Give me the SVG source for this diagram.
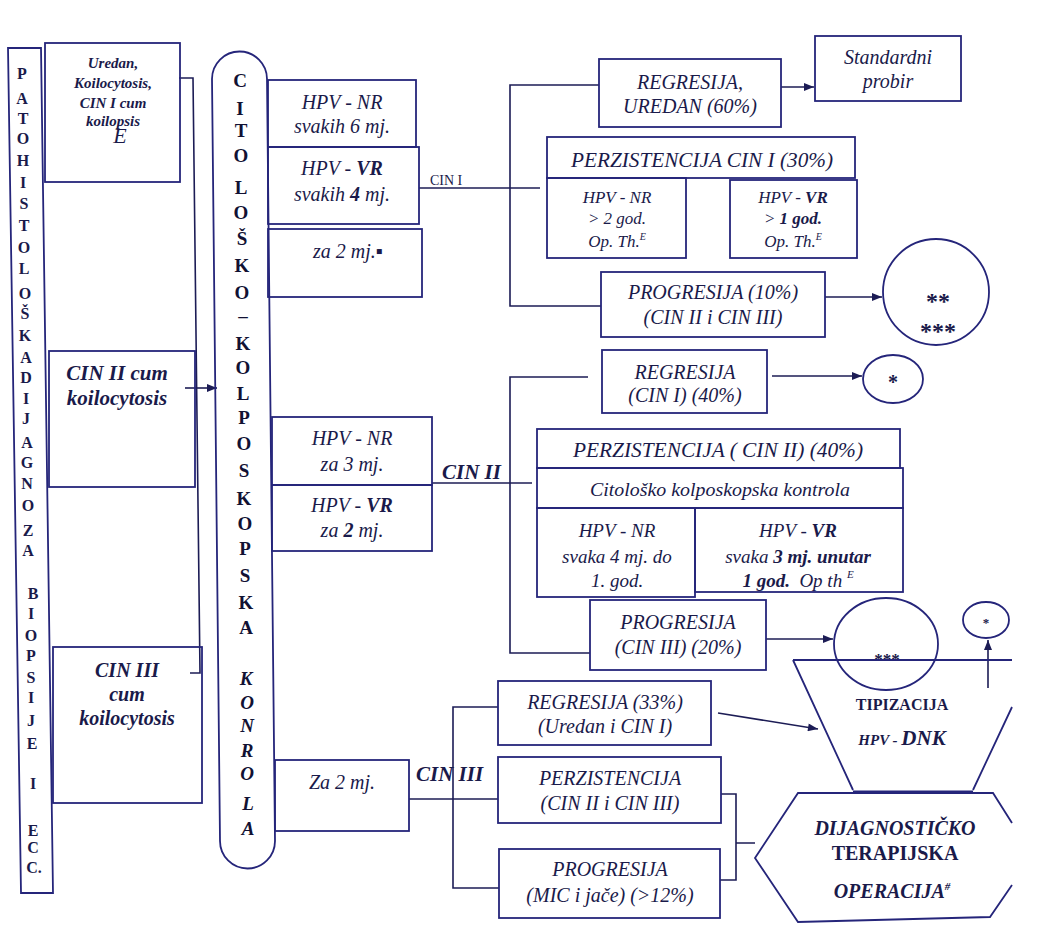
<svg xmlns="http://www.w3.org/2000/svg" width="1061" height="945" viewBox="0 0 1061 945">
<defs>
<marker id="ah" viewBox="0 0 10 8" refX="10" refY="4" markerWidth="11" markerHeight="8" markerUnits="userSpaceOnUse" orient="auto"><path d="M0,0 L10,4 L0,8 Z" fill="#1c1c55"/></marker>
<style>
.s{fill:none;stroke:#25257a;stroke-width:1.8}
.c{fill:none;stroke:#1c1c55;stroke-width:1.6}
.t{font-family:"Liberation Serif","Times New Roman",serif;font-style:italic;font-size:20px;fill:#1a1a4a;text-anchor:middle}
.m{font-size:17px}
.bi{font-weight:bold}
.n{font-style:normal}
.L{font-family:"Liberation Serif","Times New Roman",serif;font-weight:bold;font-size:16px;fill:#1a1a4a;text-anchor:middle}
.K{font-family:"Liberation Serif","Times New Roman",serif;font-weight:bold;font-size:19px;fill:#111133;text-anchor:middle}
</style>
</defs>
<rect width="1061" height="945" fill="#ffffff"/>

<g id="connectors">
<path class="c" d="M179,78 H193 L200,673 H190"/>
<path class="c" d="M185,388 H217" marker-end="url(#ah)"/>
<path class="c" d="M419,188 H540"/>
<path class="c" d="M599,85 H510 V306 H601"/>
<path class="c" d="M781,87 H814" marker-end="url(#ah)"/>
<path class="c" d="M825,297 H882" marker-end="url(#ah)"/>
<path class="c" d="M432,483 H532"/>
<path class="c" d="M588,377 H510 V653 H590"/>
<path class="c" d="M772,376 H862" marker-end="url(#ah)"/>
<path class="c" d="M766,639 H833" marker-end="url(#ah)"/>
<path class="c" d="M409,799 H498"/>
<path class="c" d="M498,707 H453 V888 H499"/>
<path class="c" d="M718,713 L818,729" marker-end="url(#ah)"/>
<path class="c" d="M721,794 H736 V880 H720 M736,843 H755"/>
<path class="c" d="M988,688 V640" marker-end="url(#ah)"/>
</g>

<g id="patohistoloska">
<path class="s" d="M8,48 L41,48 L53,893 L21,893 Z"/>
<text class="L" x="22" y="79">P</text>
<text class="L" x="22" y="104">A</text>
<text class="L" x="23" y="124">T</text>
<text class="L" x="23" y="144">O</text>
<text class="L" x="23" y="166">H</text>
<text class="L" x="23" y="188">I</text>
<text class="L" x="24" y="209">S</text>
<text class="L" x="24" y="231">T</text>
<text class="L" x="24" y="253">O</text>
<text class="L" x="24" y="274">L</text>
<text class="L" x="25" y="299">O</text>
<text class="L" x="25" y="319">Š</text>
<text class="L" x="25" y="341">K</text>
<text class="L" x="26" y="363">A</text>
<text class="L" x="26" y="383">D</text>
<text class="L" x="26" y="404">I</text>
<text class="L" x="26" y="424">J</text>
<text class="L" x="27" y="448">A</text>
<text class="L" x="27" y="468">G</text>
<text class="L" x="27" y="489">N</text>
<text class="L" x="28" y="511">O</text>
<text class="L" x="28" y="536">Z</text>
<text class="L" x="28" y="556">A</text>
<text class="L" x="33" y="599">B</text>
<text class="L" x="31" y="619">I</text>
<text class="L" x="31" y="641">O</text>
<text class="L" x="31" y="661">P</text>
<text class="L" x="31" y="683">S</text>
<text class="L" x="31" y="703">I</text>
<text class="L" x="31" y="726">J</text>
<text class="L" x="32" y="749">E</text>
<text class="L" x="33" y="789">I</text>
<text class="L" x="33" y="836">E</text>
<text class="L" x="33" y="853">C</text>
<text class="L" x="34" y="873">C.</text>
</g>

<g id="uredan">
<rect class="s" x="45" y="43" width="135" height="139"/>
<text class="t bi" style="font-size:15px" x="113" y="68">Uredan,</text>
<text class="t bi" style="font-size:15px" x="113" y="88">Koilocytosis,</text>
<text class="t bi" style="font-size:15px" x="113" y="108">CIN I cum</text>
<text class="t bi" style="font-size:15px" x="113" y="126">koilopsis</text>
<text class="t" style="font-size:22px" x="120" y="143">E</text>
</g>

<g id="cin2cum">
<rect class="s" x="49" y="351" width="146" height="136"/>
<text class="t bi" style="font-size:21px" x="117" y="380">CIN II cum</text>
<text class="t bi" style="font-size:21px" x="117" y="405">koilocytosis</text>
</g>

<g id="cin3cum">
<rect class="s" x="53" y="647" width="149" height="156"/>
<text class="t bi" x="127" y="677">CIN III</text>
<text class="t bi" x="127" y="701">cum</text>
<text class="t bi" x="127" y="725">koilocytosis</text>
</g>

<g id="citolosko">
<path class="s" d="M212,79 A27.5,27.5 0 0 1 267,79 L275,841 A27.5,27.5 0 0 1 220,841 Z"/>
<text class="K" x="240" y="87">C</text>
<text class="K" x="240" y="115">I</text>
<text class="K" x="241" y="137">T</text>
<text class="K" x="241" y="162">O</text>
<text class="K" x="241" y="194">L</text>
<text class="K" x="241" y="219">O</text>
<text class="K" x="242" y="245">Š</text>
<text class="K" x="242" y="272">K</text>
<text class="K" x="242" y="299">O</text>
<text class="K" x="243" y="322">–</text>
<text class="K" x="243" y="350">K</text>
<text class="K" x="243" y="374">O</text>
<text class="K" x="243" y="400">L</text>
<text class="K" x="244" y="424">P</text>
<text class="K" x="244" y="450">O</text>
<text class="K" x="244" y="477">S</text>
<text class="K" x="244" y="505">K</text>
<text class="K" x="245" y="530">O</text>
<text class="K" x="245" y="555">P</text>
<text class="K" x="245" y="582">S</text>
<text class="K" x="246" y="609">K</text>
<text class="K" x="246" y="634">A</text>
<text class="K" style="font-style:italic" x="246" y="685">K</text>
<text class="K" style="font-style:italic" x="247" y="709">O</text>
<text class="K" style="font-style:italic" x="247" y="732">N</text>
<text class="K" style="font-style:italic" x="247" y="757">R</text>
<text class="K" style="font-style:italic" x="247" y="780">O</text>
<text class="K" style="font-style:italic" x="248" y="810">L</text>
<text class="K" style="font-style:italic" x="248" y="835">A</text>
</g>

<g id="hpv-nr-6">
<rect class="s" x="268" y="80" width="148" height="67"/>
<text class="t" x="342" y="109">HPV - NR</text>
<text class="t" x="342" y="133">svakih 6 mj.</text>
</g>
<g id="hpv-vr-4">
<rect class="s" x="268" y="147" width="151" height="77"/>
<text class="t" x="342" y="175">HPV - <tspan class="bi">VR</tspan></text>
<text class="t" x="342" y="201">svakih <tspan class="bi">4</tspan> mj.</text>
</g>
<g id="za2-top">
<rect class="s" x="268" y="229" width="154" height="68"/>
<text class="t" x="348" y="258">za  2 mj.▪</text>
</g>
<text id="lbl-cin1" x="430" y="185" style="font-family:'Liberation Serif',serif;font-size:14px;fill:#1a1a4a">CIN I</text>

<g id="regresija60">
<rect class="s" x="599" y="59" width="182" height="68"/>
<text class="t" x="690" y="89">REGRESIJA,</text>
<text class="t" x="690" y="113">UREDAN (60%)</text>
</g>
<g id="standardni">
<rect class="s" x="815" y="36" width="146" height="65"/>
<text class="t" x="888" y="64">Standardni</text>
<text class="t" x="888" y="88">probir</text>
</g>
<g id="perzistencija-cin1">
<rect class="s" x="547" y="137" width="308" height="41"/>
<text class="t" x="702" y="167" textLength="262" lengthAdjust="spacingAndGlyphs">PERZISTENCIJA CIN I (30%)</text>
<rect class="s" x="547" y="178" width="139" height="80"/>
<text class="t m" x="617" y="203">HPV - NR</text>
<text class="t m" x="617" y="224">&gt; 2 god.</text>
<text class="t m" x="617" y="247">Op. Th.<tspan dy="-7" font-size="10">E</tspan></text>
<rect class="s" x="730" y="180" width="127" height="78"/>
<text class="t m" x="793" y="203">HPV - <tspan class="bi">VR</tspan></text>
<text class="t m" x="793" y="224">&gt; <tspan class="bi">1 god.</tspan></text>
<text class="t m" x="793" y="247">Op. Th.<tspan dy="-7" font-size="10">E</tspan></text>
</g>
<g id="progresija10">
<rect class="s" x="601" y="272" width="224" height="65"/>
<text class="t" x="713" y="299">PROGRESIJA (10%)</text>
<text class="t" x="713" y="324">(CIN II i CIN III)</text>
</g>
<g id="circle-2-3">
<ellipse class="s" cx="936" cy="292" rx="53" ry="53"/>
<text class="t n bi" style="font-size:24px" x="938" y="309">**</text>
<text class="t n bi" style="font-size:24px" x="938" y="339">***</text>
</g>

<g id="hpv-nr-3">
<rect class="s" x="272" y="417" width="160" height="68"/>
<text class="t" x="352" y="445">HPV - NR</text>
<text class="t" x="352" y="471">za 3 mj.</text>
</g>
<g id="hpv-vr-2">
<rect class="s" x="272" y="485" width="160" height="66"/>
<text class="t" x="352" y="512">HPV - <tspan class="bi">VR</tspan></text>
<text class="t" x="352" y="537">za <tspan class="bi">2</tspan> mj.</text>
</g>
<text id="lbl-cin2" class="t bi" style="font-size:21px;text-anchor:start" x="442" y="479">CIN II</text>

<g id="regresija40">
<rect class="s" x="602" y="350" width="165" height="63"/>
<text class="t" x="685" y="379">REGRESIJA</text>
<text class="t" x="685" y="402">(CIN I) (40%)</text>
</g>
<g id="circle-1a">
<ellipse class="s" cx="893" cy="379" rx="30" ry="24"/>
<text class="t n bi" x="893" y="389">*</text>
</g>
<g id="perzistencija-cin2">
<rect class="s" x="537" y="429" width="363" height="39"/>
<text class="t" x="718" y="457" textLength="290" lengthAdjust="spacingAndGlyphs">PERZISTENCIJA ( CIN II) (40%)</text>
<rect class="s" x="537" y="468" width="366" height="40"/>
<text class="t" style="font-size:19px" x="720" y="496" textLength="260" lengthAdjust="spacingAndGlyphs">Citološko kolposkopska kontrola</text>
<rect class="s" x="537" y="508" width="158" height="89"/>
<text class="t" style="font-size:19px" x="617" y="537">HPV - NR</text>
<text class="t" style="font-size:19px" x="617" y="563">svaka 4 mj. do</text>
<text class="t" style="font-size:19px" x="617" y="587">1. god.</text>
<rect class="s" x="695" y="508" width="208" height="84"/>
<text class="t" style="font-size:19px" x="798" y="537">HPV - <tspan class="bi">VR</tspan></text>
<text class="t" style="font-size:19px" x="798" y="563">svaka <tspan class="bi">3 mj. unutar</tspan></text>
<text class="t" style="font-size:19px" x="798" y="587"><tspan class="bi">1 god.</tspan>&#160; Op th <tspan dy="-9" font-size="11">E</tspan></text>
</g>
<g id="progresija20">
<rect class="s" x="590" y="600" width="176" height="70"/>
<text class="t" x="678" y="629">PROGRESIJA</text>
<text class="t" x="678" y="654">(CIN III) (20%)</text>
</g>
<g id="circle-3">
<ellipse class="s" cx="886" cy="644" rx="52" ry="46"/>
<text class="t n bi" style="font-size:17px" x="887" y="665">***</text>
</g>
<g id="circle-1b">
<ellipse class="s" cx="986" cy="620" rx="23" ry="18"/>
<text class="t n bi" style="font-size:13px" x="986" y="627">*</text>
</g>
<g id="tipizacija">
<path class="s" d="M793,660 H1012 M793,660 L853,790 M1012,707 L973,790"/>
<text class="t n bi" style="font-size:16px" x="902" y="710">TIPIZACIJA</text>
<text class="t bi" style="font-size:15px" x="902" y="745">HPV - <tspan style="font-size:21px">DNK</tspan></text>
</g>

<g id="za2-bottom">
<rect class="s" x="275" y="760" width="134" height="71"/>
<text class="t" x="342" y="789">Za  2 mj.</text>
</g>
<text id="lbl-cin3" class="t bi" style="font-size:21px;text-anchor:start" x="416" y="781">CIN III</text>
<g id="regresija33">
<rect class="s" x="498" y="681" width="213" height="64"/>
<text class="t" x="605" y="709">REGRESIJA (33%)</text>
<text class="t" x="605" y="733">(Uredan i CIN I)</text>
</g>
<g id="perzistencija-cin3">
<rect class="s" x="498" y="757" width="223" height="66"/>
<text class="t" x="610" y="785">PERZISTENCIJA</text>
<text class="t" x="610" y="810">(CIN II i CIN III)</text>
</g>
<g id="progresija12">
<rect class="s" x="499" y="849" width="221" height="69"/>
<text class="t" x="610" y="876">PROGRESIJA</text>
<text class="t" x="610" y="902">(MIC i jače) (&gt;12%)</text>
</g>
<g id="operacija">
<path class="s" d="M1012,823 L993,793 L798,793 L755,858 L798,922 L990,917 L1012,885"/>
<path class="s" d="M853,792 H973" style="stroke-width:3.2"/>
<text class="t bi" style="font-size:20px" x="895" y="835">DIJAGNOSTIČKO</text>
<text class="t n bi" style="font-size:20px" x="895" y="860">TERAPIJSKA</text>
<text class="t bi" style="font-size:20px" x="892" y="898">OPERACIJA<tspan dy="-8" font-size="11">#</tspan></text>
</g>
</svg>
